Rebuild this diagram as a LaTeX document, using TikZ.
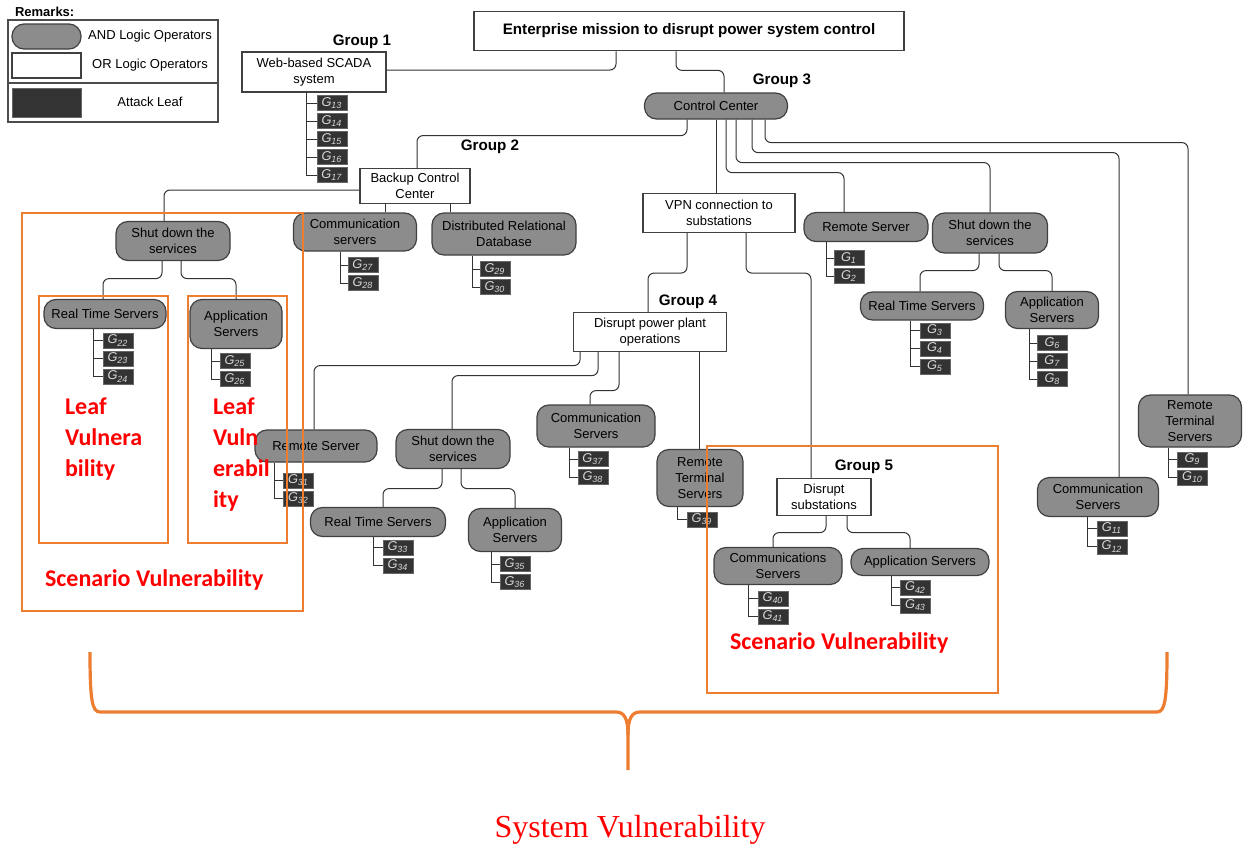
\documentclass[tikz,border=0pt]{standalone}
\usepackage{fontspec}
\setmainfont{Liberation Sans}
\newfontfamily\calfont{Carlito}
\newfontfamily\timesfont{Liberation Serif}
\usetikzlibrary{calc}

\definecolor{andgray}{HTML}{8C8C8C}
\definecolor{leafgray}{HTML}{333333}
\definecolor{vulnorange}{HTML}{ED7D31}

\newcommand\nodefont{\fontsize{6.5}{8}\selectfont}
\newcommand\gsub[1]{\textit{G}\textsubscript{\textit{#1}}}

% column of attack leaves hanging from a parent node
\newcommand\leafstack[5]{%
  \foreach \n [count=\i from 0] in {#5} {
    \node[leaf] (g\n) at (#3,#4+18*\i) {\gsub{\n}};
    \draw[conn,sharp corners] ($(#1.south)+(#2,0)$) |- (g\n.west);
  }%
}

\begin{document}
\begin{tikzpicture}[
    x=0.5pt, y=-0.5pt,
    andop/.style = {
      draw = black!75,
      fill = andgray,
      rounded corners = 6pt,
      line width = 0.6pt,
      align = center,
      inner sep = 1pt,
      font = \nodefont
    },
    orop/.style = {
      draw = black!75,
      fill = white,
      line width = 0.6pt,
      align = center,
      inner sep = 1pt,
      font = \nodefont
    },
    leaf/.style = {
      draw = black!60,
      fill = leafgray,
      text = white!85!black,
      minimum width = 15pt,
      minimum height = 7.5pt,
      inner sep = 0pt,
      font = \fontsize{6.4}{6.4}\selectfont
    },
    grp/.style = {font = \bfseries\fontsize{7.6}{9}\selectfont},
    conn/.style = {draw = black!80, line width = 0.5pt, rounded corners = 3pt},
    vbox/.style = {draw = vulnorange, line width = 1.2pt},
    vtext/.style = {text = red, anchor = west, align = left,
      font = \calfont\bfseries\fontsize{12}{15.5}\selectfont},
    brace/.style = {draw = vulnorange, line width = 1.6pt}
  ]
  \useasboundingbox (0,0) rectangle (1244,851);

  % remarks
  \node[font=\bfseries\nodefont, anchor=west] (remarks) at (8,12) {Remarks:};
  \draw[black!70, line width=0.6pt] (8,20) rectangle (218,122);
  \draw[black!70, line width=0.6pt] (8,83) -- (218,83);
  \node[andop, rounded corners=6pt, minimum width=34.5pt, minimum height=12.5pt] (kand) at (46.5,36.5) {};
  \node[orop, minimum width=34.5pt, minimum height=12.5pt] (kor) at (46.5,65.5) {};
  \node[leaf, minimum width=34.5pt, minimum height=14.5pt] (kleaf) at (46.5,102.5) {};
  \node[font=\nodefont] (kandt) at (150,36) {AND Logic Operators};
  \node[font=\nodefont] (kort) at (150,65) {OR Logic Operators};
  \node[font=\nodefont] (kleaft) at (150,102) {Attack Leaf};

  \node[orop, line width=0.9pt, font=\bfseries\fontsize{7.6}{9}\selectfont,
    minimum width=215pt, minimum height=19.5pt] (mission) at (689,31)
    {Enterprise mission to disrupt power system control};

  % group 1
  \node[grp] (grp1) at (362,42) {Group 1};
  \node[orop, minimum width=72pt, minimum height=20pt] (scada) at (314,72) {Web-based SCADA\\system};

  % group 3
  \node[grp] (grp3) at (782,81) {Group 3};
  \node[andop, minimum width=71.5pt, minimum height=13pt] (cc) at (716,106) {Control Center};
  \node[orop, minimum width=76pt, minimum height=19.5pt] (vpn) at (719,213) {VPN connection to\\substations};
  \node[andop, minimum width=62pt, minimum height=14.5pt] (rsR) at (866,227) {Remote Server};
  \node[andop, minimum width=57.5pt, minimum height=20pt] (sdR) at (990,233) {Shut down the\\services};
  \node[andop, minimum width=61.5pt, minimum height=14pt] (rtsR) at (922,306) {Real Time Servers};
  \node[andop, minimum width=46.5pt, minimum height=18.5pt] (appR) at (1052,310) {Application\\Servers};
  \node[andop, minimum width=60.5pt, minimum height=19.5pt] (comR) at (1098,497) {Communication\\Servers};
  \node[andop, minimum width=51.5pt, minimum height=26pt] (rtuR) at (1190,421) {Remote\\Terminal\\Servers};

  % group 2
  \node[grp] (grp2) at (490,147) {Group 2};
  \node[orop, minimum width=55pt, minimum height=17.5pt] (bcc) at (415,186) {Backup Control\\Center};
  \node[andop, minimum width=57pt, minimum height=19.5pt] (sdL) at (173,241) {Shut down the\\services};
  \node[andop, minimum width=61.5pt, minimum height=19pt] (comL) at (355,232) {Communication\\servers};
  \node[andop, minimum width=72pt, minimum height=21pt] (drd) at (504,234) {Distributed Relational\\Database};
  \node[andop, minimum width=61pt, minimum height=14.5pt] (rtsL) at (105,314) {Real Time Servers};
  \node[andop, minimum width=46pt, minimum height=24.5pt] (appL) at (236,324) {Application\\Servers};

  % group 4
  \node[grp] (grp4) at (688,302) {Group 4};
  \node[orop, minimum width=76.5pt, minimum height=19.5pt] (dpp) at (650,332) {Disrupt power plant\\operations};
  \node[andop, minimum width=61pt, minimum height=16pt] (rsM) at (316,446) {Remote Server};
  \node[andop, minimum width=57pt, minimum height=19.5pt] (sdM) at (453,449) {Shut down the\\services};
  \node[andop, minimum width=67.5pt, minimum height=14.5pt] (rtsM) at (378,522) {Real Time Servers};
  \node[andop, minimum width=46.5pt, minimum height=21.5pt] (appM) at (515,530) {Application\\Servers};
  \node[andop, minimum width=59pt, minimum height=21pt] (comM) at (596,426) {Communication\\Servers};
  \node[andop, minimum width=43pt, minimum height=28.5pt] (rtuM) at (700,478) {Remote\\Terminal\\Servers};

  % group 5
  \node[grp] (grp5) at (864,467) {Group 5};
  \node[orop, minimum width=47pt, minimum height=18.5pt] (dsub) at (824,497) {Disrupt\\substations};
  \node[andop, minimum width=64pt, minimum height=18.5pt] (com5) at (778,566) {Communications\\Servers};
  \node[andop, minimum width=69pt, minimum height=13.5pt] (app5) at (920,562) {Application Servers};

  % tree links
  \draw[conn] ($(scada.east)+(0,-2)$) -| ($(mission.south)+(-73,0)$);
  \draw[conn] ($(mission.south)+(-13,0)$) -- ++(0,19) -| ($(cc.north)+(8,0)$);
  \draw[conn] ($(cc.south)+(-29,0)$) -- ++(0,16) -| ($(bcc.north)+(2,0)$);
  \draw[conn] (cc.south) -- (cc.south |- vpn.north);
  \draw[conn] ($(cc.south)+(10,0)$) -- ++(0,53) -| ($(rsR.north)+(-22,0)$);
  \draw[conn] ($(cc.south)+(20,0)$) -- ++(0,43) -| (sdR.north);
  \draw[conn] ($(cc.south)+(36,0)$) -- ++(0,33) -| ($(comR.north)+(21,0)$);
  \draw[conn] ($(cc.south)+(49,0)$) -- ++(0,23) -| ($(rtuR.north)+(-2,0)$);

  \draw[conn] ($(bcc.west)+(0,4)$) -| ($(sdL.north)+(-9,0)$);
  \draw[conn] ($(bcc.south)+(-30,0)$) -- ($(comL.north)+(30,0)$);
  \draw[conn] ($(bcc.south)+(35,0)$) -- ($(drd.north)+(-54,0)$);
  \draw[conn] ($(sdL.south)+(-11,0)$) -- ++(0,17.5) -| ($(rtsL.north)+(-2,0)$);
  \draw[conn] ($(sdL.south)+(8,0)$) -- ++(0,17.5) -| (appL.north);

  \draw[conn] ($(vpn.south)+(-32,0)$) -- ++(0,40) -| ($(dpp.north)+(-2,0)$);
  \draw[conn] ($(vpn.south)+(27,0)$) -- ++(0,40) -| ($(dsub.north)+(-13,0)$);
  \draw[conn] ($(sdR.south)+(-11,0)$) -- ++(0,17) -| ($(rtsR.north)+(-2,0)$);
  \draw[conn] ($(sdR.south)+(9,0)$) -- ++(0,17) -| (appR.north);

  \draw[conn] ($(dpp.south)+(-70,0)$) -- ++(0,13.5) -| ($(rsM.north)+(-2,0)$);
  \draw[conn] ($(dpp.south)+(-52,0)$) -- ++(0,23.5) -| ($(sdM.north)+(-1,0)$);
  \draw[conn] ($(dpp.south)+(-31,0)$) -- ++(0,38.5) -| ($(comM.north)+(-6,0)$);
  \draw[conn] ($(dpp.south)+(49,0)$) -- ($(rtuM.north)+(-1,0)$);
  \draw[conn] ($(sdM.south)+(-11,0)$) -- ++(0,19.5) -| ($(rtsM.north)+(5,0)$);
  \draw[conn] ($(sdM.south)+(8,0)$) -- ++(0,19.5) -| (appM.north);

  \draw[conn] ($(dsub.south)+(2,0)$) -- ++(0,16.5) -| ($(com5.north)+(-5,0)$);
  \draw[conn] ($(dsub.south)+(23,0)$) -- ++(0,16.5) -| ($(app5.north)+(-10,0)$);

  % attack leaves
  \leafstack{scada}{-8}{332}{103}{13,...,17}
  \leafstack{comL}{-15}{363}{265}{27,28}
  \leafstack{drd}{-32}{495}{269}{29,30}
  \leafstack{rtsL}{-12}{118}{340.5}{22,23,24}
  \leafstack{appL}{-25}{235}{361}{25,26}
  \leafstack{rsR}{-40}{849}{258}{1,2}
  \leafstack{rtsR}{-12}{935}{330.5}{3,4,5}
  \leafstack{appR}{-23}{1052.5}{343}{6,7,8}
  \leafstack{rtuR}{-22}{1192.5}{459.5}{9,10}
  \leafstack{comR}{-11}{1112}{528.5}{11,12}
  \leafstack{rsM}{-42}{298.5}{480.5}{31,32}
  \leafstack{rtsM}{-5}{398}{547.5}{33,34}
  \leafstack{appM}{-24}{515}{564}{35,36}
  \leafstack{comM}{-27}{593}{459}{37,38}
  \leafstack{rtuM}{-23}{702}{519.5}{39}
  \leafstack{com5}{-30}{773}{598.5}{40,41}
  \leafstack{app5}{-29}{915.5}{587.5}{42,43}

  % vulnerability levels
  \draw[vbox] (22,213) rectangle (303,611);
  \draw[vbox] (39,296) rectangle (168,543);
  \draw[vbox] (188,296) rectangle (287,543);
  \draw[vbox] (707,446) rectangle (998,693);

  \node[vtext] (leafA) at (58,439) {Leaf\\Vulnera\\bility};
  \node[vtext] (leafB) at (206,454.5) {Leaf\\Vuln\\erabil\\ity};
  \node[vtext] (scenA) at (38,580) {Scenario Vulnerability};
  \node[vtext] (scenB) at (723,643) {Scenario Vulnerability};

  \draw[brace] (90,652) .. controls (90,700) and (92,712) .. (100,712) -- (616,712)
    .. controls (624,712) and (628,718) .. (628,735) -- (628,770);
  \draw[brace] (1167,652) .. controls (1167,700) and (1165,712) .. (1157,712) -- (640,712)
    .. controls (632,712) and (628,718) .. (628,735);

  \node[text=red, font=\timesfont\fontsize{16}{18}\selectfont] (sysv) at (630,830) {System Vulnerability};
\end{tikzpicture}
\end{document}
